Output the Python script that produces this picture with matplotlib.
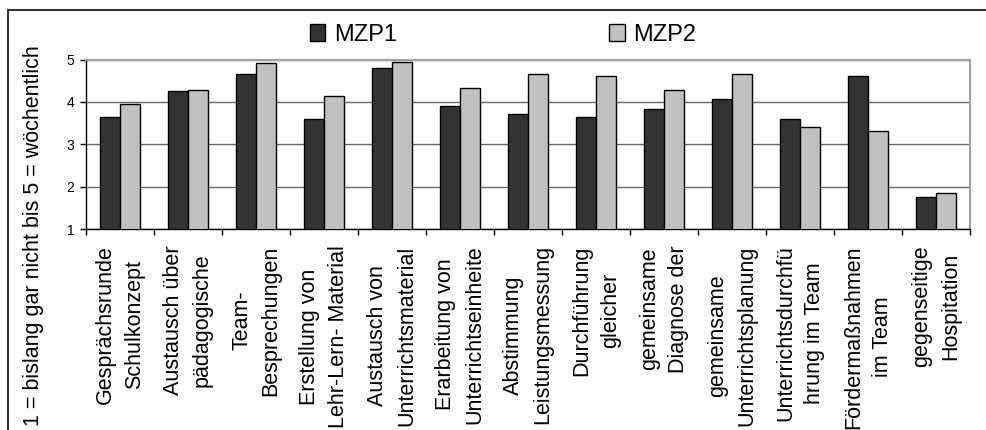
import matplotlib
matplotlib.use("Agg")
import matplotlib.pyplot as plt
import numpy as np
from matplotlib.lines import Line2D
from matplotlib.patches import Patch

plt.rcParams['font.family'] = ['Liberation Sans', 'DejaVu Sans']

categories = [
    "Gesprächsrunde\nSchulkonzept",
    "Austausch über\npädagogische",
    "Team-\nBesprechungen",
    "Erstellung von\nLehr-Lern- Material",
    "Austausch von\nUnterrichtsmaterial",
    "Erarbeitung von\nUnterrichtseinheite",
    "Abstimmung\nLeistungsmessung",
    "Durchführung\ngleicher",
    "gemeinsame\nDiagnose der",
    "gemeinsame\nUnterrichtsplanung",
    "Unterrichtsdurchfü\nhrung im Team",
    "Fördermaßnahmen\nim Team",
    "gegenseitige\nHospitation",
]
mzp1 = [3.64, 4.25, 4.67, 3.60, 4.81, 3.91, 3.72, 3.64, 3.83, 4.06, 3.60, 4.61, 1.75]
mzp2 = [3.96, 4.29, 4.91, 4.15, 4.95, 4.34, 4.67, 4.61, 4.29, 4.67, 3.41, 3.31, 1.85]
series_names = ["MZP1", "MZP2"]
yticks = [1, 2, 3, 4, 5]
ylabel = "1 = bislang gar nicht bis 5 = wöchentlich"

c1 = "#333333"
c2 = "#c0c0c0"

fig = plt.figure(figsize=(9.86, 4.30), dpi=100)
ax = fig.add_axes([86/986, 1-229.3/430, (970-86)/986, (229.3-59.5)/430])

n = len(categories)
x = np.arange(n)
w = 0.29
ax.bar(x - w/2, mzp1, width=w, color=c1, edgecolor="black", linewidth=1, zorder=3)
ax.bar(x + w/2, mzp2, width=w, color=c2, edgecolor="black", linewidth=1, zorder=3)

ax.set_xlim(-0.5, n - 0.5)
ax.set_ylim(1, 5)
ax.set_yticks(yticks)
ax.set_yticklabels([str(t) for t in yticks], fontsize=10)
ax.tick_params(axis='y', length=4, width=1, pad=4.5, colors='black')

# boundaries as major ticks, labels on minor ticks at centers
ax.set_xticks(np.arange(-0.5, n, 1.0))
ax.set_xticklabels([])
ax.tick_params(axis='x', which='major', length=4, width=1)
ax.set_xticks(x, minor=True)
ax.set_xticklabels(categories, minor=True, rotation=90, fontsize=15.5,
                   ha='center', va='top', multialignment='center',
                   linespacing=1.5)
ax.tick_params(axis='x', which='minor', length=0, pad=11.5)

ax.grid(axis='y', color='#666666', linewidth=1, zorder=0)
ax.set_axisbelow(True)
for s in ['top', 'right']:
    ax.spines[s].set_color('#a0a0a0')
    ax.spines[s].set_linewidth(1.5)
for s in ['left', 'bottom']:
    ax.spines[s].set_color('black')
    ax.spines[s].set_linewidth(1)

fig.text(34/986, 1-235.5/430, ylabel, rotation=90, ha='center', va='center', fontsize=15.5)

handles = [Patch(facecolor=c1, edgecolor='black', linewidth=1),
           Patch(facecolor=c2, edgecolor='black', linewidth=1)]
fig.legend(handles, series_names, loc='center', bbox_to_anchor=(503/986, 1-35/430),
           ncol=2, frameon=False, fontsize=17, handlelength=0.65, handleheight=0.7,
           handletextpad=0.35, columnspacing=9.0, borderpad=0, borderaxespad=0)

# figure frame lines (top and left)
fig.add_artist(Line2D([8/986, 1], [1-9.5/430, 1-9.5/430], color='#333333', linewidth=1.5,
                      transform=fig.transFigure))
fig.add_artist(Line2D([8/986, 8/986], [0, 1-9.5/430], color='#333333', linewidth=1.5,
                      transform=fig.transFigure))

fig.savefig("out.png", dpi=100)
